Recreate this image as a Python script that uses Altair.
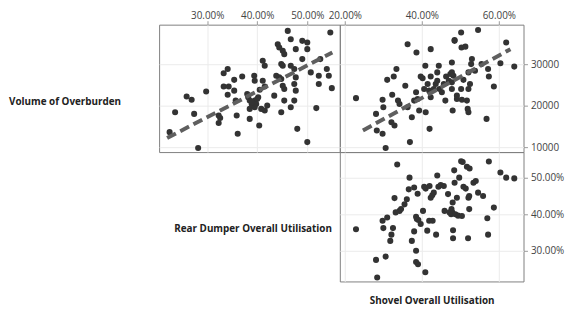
import altair as alt
import pandas as pd

# Top-left: Rear Dumper Overall Utilisation (%) vs Volume of Overburden
tl_rear = [22.5, 23.6, 25.9, 26.9, 27.4, 28.2, 29.8, 32.3, 32.3, 32.6, 33.3, 34.1, 33.3, 34.3, 34.1,
           35.4, 35.4, 35.7, 35.9, 36.1, 37.0, 38.2, 38.5, 38.9, 38.5, 39.5, 39.8, 39.5, 40.2, 40.8,
           41.5, 38.5, 39.4, 39.5, 40.4, 40.5, 41.1, 41.5, 41.1, 41.5, 43.4, 44.1, 44.4, 45.1, 45.4,
           43.8, 44.4, 44.8, 44.8, 45.1, 45.4, 45.4, 45.1, 44.8, 46.1, 46.7, 46.7, 47.4, 46.7, 47.4,
           47.7, 47.4, 47.7, 47.7, 48.0, 49.0, 49.0, 50.0, 50.0, 50.0, 50.7, 51.8, 52.3, 52.3, 52.6,
           53.9, 54.3, 54.6, 54.9, 39.0, 40.0, 38.0, 42.0]
tl_vol = [13600, 18400, 22200, 21400, 18000, 9800, 23400, 17600, 15800, 17000, 27800, 28800, 24600, 24600, 22600,
          26200, 23600, 21200, 17600, 13200, 27000, 22000, 21200, 20400, 19200, 21200, 20400, 19600, 22000, 19200,
          18800, 16800, 27200, 26000, 15200, 23800, 26000, 24600, 30800, 29600, 22400, 34800, 34000, 33200, 32400,
          27200, 26800, 26400, 30000, 29600, 21200, 24000, 24800, 18400, 38000, 36000, 19600, 21200, 29600, 28800,
          33600, 25200, 23600, 26800, 14400, 31200, 35600, 35200, 33600, 11200, 28000, 19400, 27200, 25200, 31200,
          28800, 27200, 37600, 24200, 20800, 21600, 22800, 20000]
# fitted line end points
tl_fit_rear = [22.0, 55.0]
tl_fit_vol = [12200, 32800]

# Top-right: Shovel Overall Utilisation (%) vs Volume of Overburden
tr_shovel = [22.9, 28.1, 28.3, 29.8, 29.8, 30.0, 30.6, 31.0, 32.3, 32.7, 33.4, 32.1, 32.9, 33.8, 34.2,
             35.7, 36.3, 36.3, 36.9, 37.4, 38.0, 38.5, 38.6, 38.9, 39.3, 39.7, 40.2, 40.9, 41.0, 40.6,
             41.5, 41.9, 42.0, 42.3, 42.3, 42.3, 43.1, 43.6, 44.0, 44.0, 44.4, 44.6, 45.2, 45.7, 46.1,
             46.3, 47.0, 47.4, 47.8, 47.8, 48.0, 47.8, 48.2, 47.8, 48.5, 48.5, 49.1, 49.1, 50.2, 50.3,
             51.3, 50.2, 50.4, 50.8, 51.7, 51.9, 52.1, 52.1, 52.5, 52.1, 52.8, 53.0, 53.8, 54.6, 55.5,
             56.8, 57.2, 57.4, 58.7, 60.4, 61.9, 64.0]
tr_vol = [21800, 18000, 14000, 13200, 21400, 19600, 9800, 26200, 22600, 27000, 28800, 16000, 15200, 21200, 20400,
          24800, 34800, 19600, 11200, 17200, 21200, 23200, 32800, 21600, 18800, 27000, 26600, 29600, 18400, 24000,
          25200, 23600, 14400, 33600, 27000, 22000, 24000, 25200, 26000, 28000, 29600, 24000, 23200, 25200, 21200,
          27000, 26000, 27600, 28000, 30400, 18800, 25600, 27200, 24000, 35600, 35800, 21600, 22400, 37600, 34000,
          34200, 24000, 21400, 26200, 21200, 19200, 18400, 24000, 25200, 28000, 30000, 31200, 28400, 38200, 30000,
          16800, 28800, 27000, 24600, 30200, 35200, 29400]
tr_fit_shovel = [24.7, 63.0]
tr_fit_vol = [14000, 33600]

# Bottom-right: Shovel Overall Utilisation (%) vs Rear Dumper Overall Utilisation (%)
br_shovel = [22.9, 28.1, 28.4, 29.8, 30.0, 30.6, 31.0, 31.8, 32.1, 32.5, 32.9, 33.2, 33.6, 34.2, 34.6,
             35.5, 36.1, 36.6, 36.8, 37.4, 38.0, 38.0, 38.5, 38.7, 38.5, 38.5, 39.0, 38.9, 39.1, 39.7,
             40.3, 40.6, 41.0, 40.9, 41.4, 41.9, 42.0, 42.3, 42.7, 42.8, 43.1, 43.7, 44.0, 44.3, 44.9,
             45.7, 45.9, 46.8, 47.2, 47.6, 47.7, 47.9, 48.0, 48.1, 48.1, 48.4, 48.5, 48.7, 49.4, 49.7,
             50.2, 50.6, 50.4, 49.1, 50.8, 51.4, 51.7, 52.4, 52.0, 52.1, 52.3, 52.3, 53.4, 54.0, 54.6,
             55.9, 57.0, 57.2, 57.4, 58.7, 60.4, 61.9, 64.0]
br_rear = [35.9, 27.5, 22.7, 38.2, 36.2, 28.4, 39.1, 32.7, 34.4, 36.2, 44.4, 40.5, 53.6, 40.9, 41.4,
           42.7, 44.1, 46.8, 50.0, 32.7, 35.3, 47.3, 39.3, 38.7, 30.0, 26.9, 26.3, 45.6, 38.4, 37.3,
           40.9, 47.5, 47.0, 24.1, 35.5, 38.2, 47.7, 44.5, 45.2, 38.2, 45.9, 34.4, 50.6, 47.5, 48.0,
           47.7, 40.9, 45.5, 40.5, 40.0, 41.4, 40.5, 43.2, 35.6, 33.4, 52.0, 48.6, 40.0, 39.6, 50.0,
           54.5, 54.3, 39.5, 44.5, 47.5, 47.0, 53.0, 52.5, 33.4, 44.5, 45.0, 41.4, 48.6, 49.1, 45.9,
           45.0, 38.9, 34.4, 54.4, 41.8, 51.4, 50.0, 49.8]

FONT = "Open Sans"
PT = "#333333"
LINE = "#5f5f5f"
GRID = "#ebebeb"
TICK = "#999999"
FRAME = "#7f7f7f"
PCT = "format(datum.value, '.2f') + '%'"

tl_df = pd.DataFrame({"rear": tl_rear, "vol": tl_vol})
tl_fit = pd.DataFrame({"rear": tl_fit_rear, "vol": tl_fit_vol})
tr_df = pd.DataFrame({"shovel": tr_shovel, "vol": tr_vol})
tr_fit = pd.DataFrame({"shovel": tr_fit_shovel, "vol": tr_fit_vol})
br_df = pd.DataFrame({"shovel": br_shovel, "rear": br_rear})

vol_scale = alt.Scale(domain=[8800, 39500], nice=False, zero=False)
rear_x_scale = alt.Scale(domain=[20.4, 56.5], nice=False, zero=False)
shovel_scale = alt.Scale(domain=[18.7, 66.4], nice=False, zero=False)
rear_y_scale = alt.Scale(domain=[21.6, 57.0], nice=False, zero=False)

def top_axis(values):
    return alt.Axis(orient="top", values=values, labelExpr=PCT, title=None, domain=False,
                    grid=True, gridColor=GRID, tickColor=TICK, tickSize=4, labelPadding=0,
                    labelFlush=False, labelOverlap=False, labelFont=FONT, labelFontSize=10,
                    labelColor="#444444")

def right_axis(values, expr=None):
    kw = dict(orient="right", values=values, title=None, domain=False, grid=True,
              gridColor=GRID, tickColor=TICK, tickSize=4, labelPadding=3, labelFlush=False,
              labelOverlap=False, labelFont=FONT, labelFontSize=10, labelColor="#444444")
    if expr:
        kw["labelExpr"] = expr
    else:
        kw["format"] = "d"
    return alt.Axis(**kw)

hidden_y = alt.Axis(values=[10000, 20000, 30000], labels=False, ticks=False, domain=False,
                    title=None, grid=True, gridColor=GRID)

frame = alt.ViewBackground(stroke=FRAME, strokeWidth=1)

# Top-left panel
tl_pts = alt.Chart(tl_df).mark_circle(size=38, color=PT, opacity=1).encode(
    x=alt.X("rear:Q", scale=rear_x_scale, axis=top_axis([30, 40, 50])),
    y=alt.Y("vol:Q", scale=vol_scale, axis=hidden_y),
)
tl_line = alt.Chart(tl_fit).mark_line(
    color=LINE, strokeWidth=4, strokeDash=[10, 5]).encode(
    x=alt.X("rear:Q", scale=rear_x_scale),
    y=alt.Y("vol:Q", scale=vol_scale),
)
tl = alt.layer(tl_pts, tl_line).properties(width=183, height=129, view=frame)

# Top-right panel
tr_pts = alt.Chart(tr_df).mark_circle(size=38, color=PT, opacity=1).encode(
    x=alt.X("shovel:Q", scale=shovel_scale, axis=top_axis([20, 40, 60])),
    y=alt.Y("vol:Q", scale=vol_scale, axis=right_axis([10000, 20000, 30000])),
)
tr_line = alt.Chart(tr_fit).mark_line(
    color=LINE, strokeWidth=4, strokeDash=[10, 5]).encode(
    x=alt.X("shovel:Q", scale=shovel_scale),
    y=alt.Y("vol:Q", scale=vol_scale),
)
tr = alt.layer(tr_pts, tr_line).properties(width=186, height=129, view=frame)

# Bottom-right panel
br = alt.Chart(br_df).mark_circle(size=38, color=PT, opacity=1).encode(
    x=alt.X("shovel:Q", scale=shovel_scale,
            axis=alt.Axis(orient="bottom", values=[20, 40, 60], labels=False, ticks=False,
                          domain=False, grid=True, gridColor=GRID,
                          title="Shovel Overall Utilisation", titleFont=FONT, titleFontSize=10,
                          titleFontWeight="bold", titleColor="#222222", titlePadding=14)),
    y=alt.Y("rear:Q", scale=rear_y_scale, axis=right_axis([30, 40, 50], PCT)),
).properties(width=186, height=131, view=frame)

def label_chart(text, w, h, xpos, ypos, align):
    return alt.Chart(pd.DataFrame({"t": [text]})).mark_text(
        font=FONT, fontSize=10, fontWeight="bold", color="#222222", align=align,
        baseline="middle").encode(
        text="t:N", x=alt.value(xpos), y=alt.value(ypos)
    ).properties(width=w, height=h, view=alt.ViewBackground(stroke="transparent"))

lab1 = label_chart("Volume of Overburden", 152, 129, 0, 78, "left")
lab2a = label_chart("", 152, 131, 0, 0, "left")
lab2b = label_chart("Rear Dumper Overall Utilisation", 183, 131, 175, 78, "right")

chart = alt.concat(lab1, tl, tr, lab2a, lab2b, br, columns=3, spacing=0, bounds="flush").properties(
    padding={"left": 0, "top": 0, "right": 0, "bottom": 0}
).configure(background="white")

chart.save("out.html", embed_options={"renderer": "svg", "actions": False})
